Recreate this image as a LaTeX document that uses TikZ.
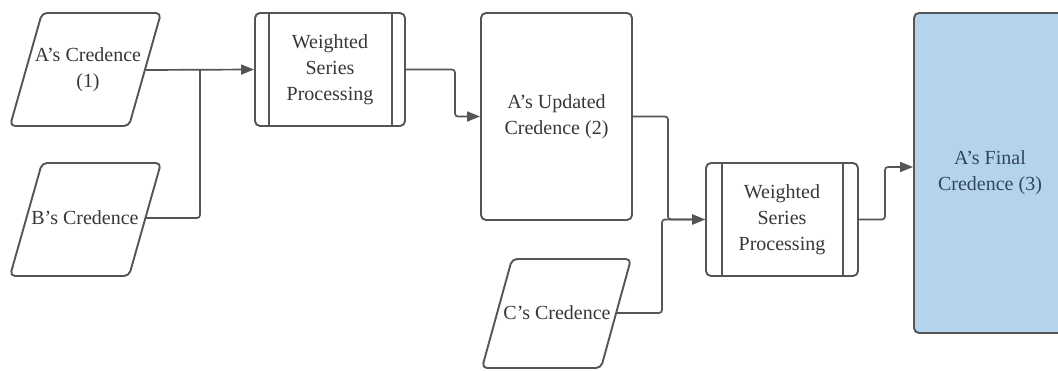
\documentclass[tikz,border=0pt]{standalone}
\usepackage{fontspec}
\setmainfont{Liberation Serif}
\usetikzlibrary{arrows.meta}
\newcommand{\myapos}{\char"0027\relax}
\definecolor{edge}{RGB}{85,85,85}
\definecolor{txtc}{RGB}{55,55,55}
\definecolor{finfill}{RGB}{180,212,237}
\definecolor{fintxt}{RGB}{50,70,90}
\tikzset{
  shapeline/.style={draw=edge, line width=1.9pt, rounded corners=5pt, line join=round},
  txt/.style={text=txtc, align=center, font=\fontsize{20}{26}\selectfont, inner sep=0pt},
  boxnode/.style={shapeline, txt, minimum width=#1},
  conn/.style={draw=edge, line width=1.7pt, rounded corners=3pt},
  arr/.style={conn, -{Triangle[length=13pt,width=10pt]}},
}
\begin{document}
\begin{tikzpicture}[x=1pt,y=-1pt]
\useasboundingbox (0,0) rectangle (1058,370);
% parallelograms
\draw[shapeline] (42,13) -- (161,13) -- (129,126) -- (10,126) -- cycle;
\node[txt] (a) at (88,70) {A\myapos s Credence\\(1)};
\coordinate (aE) at (146,70);
\draw[shapeline] (42,163) -- (161,163) -- (129,276) -- (10,276) -- cycle;
\node[txt] (b) at (85,218) {B\myapos s Credence};
\coordinate (bE) at (146,218);
\draw[shapeline] (512,259) -- (631,259) -- (601,368) -- (482,368) -- cycle;
\node[txt] (c) at (557,313) {C\myapos s Credence};
\coordinate (cE) at (617,313);
% processing boxes
\node[boxnode=150pt, minimum height=113pt] (w1) at (330,69.5) {Weighted\\Series\\Processing};
\draw[draw=edge, line width=1.9pt] ([xshift=-61pt]w1.north) -- ([xshift=-61pt]w1.south)
  ([xshift=62pt]w1.north) -- ([xshift=62pt]w1.south);
\node[boxnode=151pt, minimum height=207pt] (u) at (556.5,116.5) {A\myapos s Updated\\Credence (2)};
\node[boxnode=152pt, minimum height=113pt] (w2) at (782,219.5) {Weighted\\Series\\Processing};
\draw[draw=edge, line width=1.9pt] ([xshift=-60pt]w2.north) -- ([xshift=-60pt]w2.south)
  ([xshift=61pt]w2.north) -- ([xshift=61pt]w2.south);
\node[boxnode=152pt, minimum height=320pt, fill=finfill, text=fintxt] (f) at (990,173) {A\myapos s Final\\Credence (3)};
% connectors
\draw[arr] (aE) -- (w1.west);
\draw[conn] (bE) -- (200,218) -- (200,70);
\draw[arr] (w1.east) -- (455,69.5) -- (455,116.5) -- (u.west);
\draw[arr] (u.east) -- (668,116.5) -- (668,219.5) -- (w2.west);
\draw[arr] (cE) -- (662,313) -- (662,219.5) -- (w2.west);
\draw[arr] (w2.east) -- (885,219.5) -- (885,167) -- ([yshift=6pt]f.west);
\end{tikzpicture}
\end{document}
